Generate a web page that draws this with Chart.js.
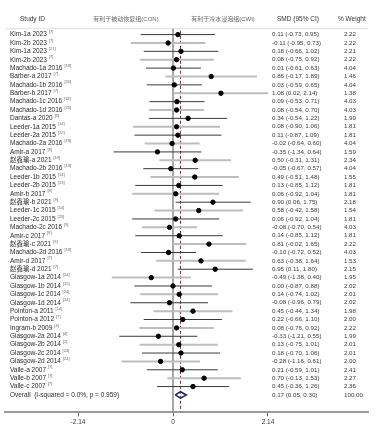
<!DOCTYPE html>
<html>
<head>
<meta charset="utf-8">
<script src="https://cdn.jsdelivr.net/npm/chart.js@4.4.0/dist/chart.umd.min.js"></script>
<style>
  html, body { margin: 0; padding: 0; background: #fff; }
  #wrap { width: 389px; height: 429px; }
</style>
</head>
<body>
<div id="wrap"><canvas id="forest"></canvas></div>
<script>
// dados do forest plot
const studies = ['Kim-1a 2023', 'Kim-2b 2023', 'Kim-1a 2023', 'Kim-2b 2023', 'Machado-1a 2016', 'Barber-a 2017',
  'Machado-1b 2016', 'Barber-b 2017', 'Machado-1c 2016', 'Machado-1d 2016', 'Dantas-a 2020', 'Leeder-1a 2015',
  'Leeder-2a 2015', 'Machado-2a 2016', 'Amir-a 2017', '赵鑫瑜-a 2021', 'Machado-2b 2016', 'Leeder-1b 2015',
  'Leeder-2b 2015', 'Amir-b 2017', '赵鑫瑜-b 2021', 'Leeder-1c 2015', 'Leeder-2c 2015', 'Machado-2c 2016',
  'Amir-c 2017', '赵鑫瑜-c 2021', 'Machado-2d 2016', 'Amir-d 2017', '赵鑫瑜-d 2021', 'Glasgow-1a 2014',
  'Glasgow-1b 2014', 'Glasgow-1c 2014', 'Glasgow-1d 2014', 'Pointon-a 2011', 'Pointon-a 2012', 'Ingram-b 2009',
  'Glasgow-2a 2014', 'Glasgow-2b 2014', 'Glasgow-2c 2014', 'Glasgow-2d 2014', 'Valle-a 2007', 'Valle-b 2007',
  'Valle-c 2007'];
const refs = ['[7]', '[7]', '[21]', '[7]', '[18]', '[7]', '[20]', '[7]', '[18]', '[20]', '[5]', '[14]',
  '[22]', '[18]', '[8]', '[19]', '[18]', '[14]', '[13]', '[8]', '[9]', '[14]', '[23]', '[9]',
  '[8]', '[9]', '[18]', '[7]', '[7]', '[24]', '[15]', '[24]', '[14]', '[14]', '[7]', '[4]',
  '[4]', '[2]', '[24]', '[24]', '[7]', '[7]', '[7]'];
const smd = [0.11, -0.11, 0.18, 0.08, 0.01, 0.86, 0.03, 1.08, 0.09, 0.08, 0.34, 0.08, 0.11, -0.02, -0.35,
  0.50, -0.05, 0.49, 0.13, 0.06, 0.90, 0.58, 0.06, -0.08, 0.14, 0.81, -0.10, 0.63, 0.95, -0.49, 0.00, 0.14,
  -0.08, 0.45, 0.22, 0.08, -0.33, 0.13, 0.18, -0.28, 0.21, 0.70, 0.45];
const ciLow = [-0.73, -0.95, -0.66, -0.75, -0.61, -0.17, -0.59, 0.02, -0.53, -0.54, -0.54, -0.90, -0.87, -0.64,
  -1.34, -0.31, -0.67, -0.51, -0.85, -0.92, 0.06, -0.42, -0.92, -0.70, -0.85, -0.02, -0.72, -0.38, 0.11, -1.38,
  -0.87, -0.74, -0.96, -0.44, -0.66, -0.76, -1.21, -0.75, -0.70, -1.16, -0.59, -0.13, -0.36];
const ciHigh = [0.95, 0.73, 1.02, 0.92, 0.63, 1.89, 0.65, 2.14, 0.71, 0.70, 1.22, 1.06, 1.09, 0.60, 0.64, 1.31,
  0.57, 1.48, 1.12, 1.04, 1.75, 1.58, 1.04, 0.54, 1.12, 1.65, 0.52, 1.64, 1.80, 0.40, 0.88, 1.02, 0.79, 1.34,
  1.10, 0.92, 0.55, 1.01, 1.06, 0.61, 1.01, 1.53, 1.26];
const weights = [2.22, 2.22, 2.21, 2.22, 4.04, 1.46, 4.04, 1.38, 4.03, 4.03, 1.99, 1.81, 1.81, 4.04, 1.59, 2.34,
  4.04, 1.55, 1.81, 1.81, 2.18, 1.54, 1.81, 4.03, 1.81, 2.22, 4.03, 1.53, 2.15, 1.95, 2.02, 2.01, 2.02, 1.98,
  2.00, 2.22, 1.99, 2.01, 2.01, 2.00, 2.41, 2.27, 2.36];
const overallLabel = 'Overall  (I-squared = 0.0%, p = 0.959)';
const overall = [0.17, 0.05, 0.30]; // smd, low, high
const xTicks = [-2.14, 0, 2.14];
const headerLeft = '有利于被动恢复组(CON)';
const headerRight = '有利于冷水浸泡组(CWI)';

const nRows = studies.length;
const overallRow = nRows;
const headerRow = -0.7;

// linhas dos intervalos: pretas e cinzas alternadas
const darkLines = [];
const lightLines = [];
for (let i = 0; i < nRows; i++) {
  const target = i % 2 === 0 ? darkLines : lightLines;
  target.push({ x: ciLow[i], y: i }, { x: ciHigh[i], y: i }, { x: NaN, y: NaN });
}
const points = smd.map((v, i) => ({ x: v, y: i }));
const diamond = [
  { x: overall[1], y: overallRow }, { x: overall[0], y: overallRow - 0.38 },
  { x: overall[2], y: overallRow }, { x: overall[0], y: overallRow + 0.38 },
  { x: overall[1], y: overallRow }
];

const xMin = -3.785, xMax = 4.393;
const yMin = -3.53, yMax = 45.06;

const FONT = "'Liberation Sans', 'Noto Sans CJK SC', sans-serif";

// textos da tabela
const tablePlugin = {
  id: 'tabela',
  afterDatasetsDraw(chart) {
    const ctx = chart.ctx;
    const ys = chart.scales.y;
    ctx.save();
    ctx.textBaseline = 'middle';

    // cabeçalhos
    const hy = ys.getPixelForValue(-1.85);
    ctx.fillStyle = '#333';
    ctx.font = '6.5px ' + FONT;
    ctx.textAlign = 'left';
    ctx.fillText('Study ID', 20, hy);
    ctx.fillText('SMD (95% CI)', 277, hy);
    ctx.fillText('% Weight', 338, hy);
    ctx.fillStyle = '#666';
    ctx.font = '6px ' + FONT;
    ctx.textAlign = 'center';
    ctx.fillText(headerLeft, 126, hy);
    ctx.fillText(headerRight, 223, hy);

    // linhas de estudos
    for (let i = 0; i < nRows; i++) {
      const y = ys.getPixelForValue(i);
      ctx.textAlign = 'left';
      ctx.fillStyle = '#2a2a2a';
      ctx.font = '6.5px ' + FONT;
      ctx.fillText(studies[i], 10, y);
      const w = ctx.measureText(studies[i]).width;
      ctx.font = '4px ' + FONT;
      ctx.fillStyle = '#666';
      ctx.fillText(refs[i], 10 + w + 2, y - 2.5);

      ctx.font = '6.2px ' + FONT;
      ctx.fillStyle = '#3a3a3a';
      const txt = smd[i].toFixed(2) + ' (' + ciLow[i].toFixed(2) + ', ' + ciHigh[i].toFixed(2) + ')';
      ctx.fillText(txt, 272, y);
      ctx.textAlign = 'right';
      ctx.fillText(weights[i].toFixed(2), 356, y);
    }

    // linha overall
    const oy = ys.getPixelForValue(overallRow);
    ctx.textAlign = 'left';
    ctx.fillStyle = '#2a2a2a';
    ctx.font = '6.5px ' + FONT;
    ctx.fillText(overallLabel, 10, oy);
    ctx.fillStyle = '#3a3a3a';
    ctx.font = '6.2px ' + FONT;
    ctx.fillText(overall[0].toFixed(2) + ' (' + overall[1].toFixed(2) + ', ' + overall[2].toFixed(2) + ')', 272, oy);
    ctx.textAlign = 'right';
    ctx.fillText('100.00', 363, oy);
    ctx.restore();
  }
};

const config = {
  type: 'scatter',
  data: {
    datasets: [
      { // linha do cabeçalho
        type: 'line', data: [{ x: xMin, y: headerRow }, { x: xMax, y: headerRow }],
        borderColor: '#e2e2e2', borderWidth: 1, pointRadius: 0, order: 6
      },
      { // linha vertical no zero
        type: 'line', data: [{ x: 0, y: headerRow }, { x: 0, y: yMax }],
        borderColor: '#8c8c8c', borderWidth: 1.5, pointRadius: 0, order: 5
      },
      { // efeito global
        type: 'line', data: [{ x: overall[0], y: -0.45 }, { x: overall[0], y: 44.7 }],
        borderColor: '#8b1c2c', borderWidth: 1, borderDash: [3, 2], pointRadius: 0, order: 4
      },
      {
        type: 'line', data: lightLines, borderColor: '#bdbdbd', borderWidth: 2,
        pointRadius: 0, spanGaps: false, order: 3
      },
      {
        type: 'line', data: darkLines, borderColor: '#3a3a3a', borderWidth: 1,
        pointRadius: 0, spanGaps: false, order: 2
      },
      {
        data: points, backgroundColor: '#000', borderColor: '#000', pointRadius: 2.2, order: 1
      },
      {
        type: 'line', data: diamond, borderColor: '#1f2a78', borderWidth: 1.6,
        pointRadius: 0, fill: false, tension: 0, order: 0
      }
    ]
  },
  options: {
    responsive: true,
    maintainAspectRatio: false,
    animation: false,
    events: [],
    layout: { padding: { left: 5, right: 21, top: 0, bottom: 1 } },
    plugins: { legend: { display: false }, tooltip: { enabled: false } },
    scales: {
      x: {
        type: 'linear', min: xMin, max: xMax,
        afterBuildTicks: (scale) => { scale.ticks = xTicks.map(v => ({ value: v })); },
        ticks: {
          autoSkip: false, maxRotation: 0, padding: 2, color: '#333',
          font: { size: 6.5, family: FONT },
          callback: (v) => v === 0 ? '0' : v.toFixed(2)
        },
        grid: { drawOnChartArea: false, drawTicks: true, tickLength: 4, color: '#555', lineWidth: 1 },
        border: { display: true, color: '#9a9a9a', width: 2 }
      },
      y: { type: 'linear', display: false, reverse: true, min: yMin, max: yMax }
    }
  },
  plugins: [tablePlugin]
};

document.addEventListener('DOMContentLoaded', function () {
  const ctx = document.getElementById('forest').getContext('2d');
  new Chart(ctx, config);
});
</script>
</body>
</html>
